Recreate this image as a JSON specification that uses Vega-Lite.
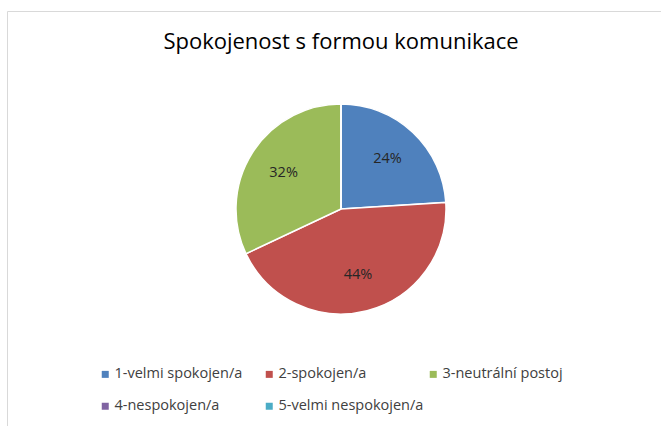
{
  "$schema": "https://vega.github.io/schema/vega-lite/v6.json",
  "width": 661,
  "height": 426,
  "autosize": {"type": "fit", "contains": "padding"},
  "padding": {"left": 7, "top": 11, "right": -2, "bottom": -2},
  "background": "white",
  "view": {"stroke": "#d9d9d9", "strokeWidth": 1, "fill": "white"},
  "config": {
    "view": {"stroke": "#d9d9d9", "strokeWidth": 1},
    "font": "Open Sans"
  },
  "title": {
    "text": "Spokojenost s formou komunikace",
    "anchor": "middle",
    "orient": "top",
    "offset": -60,
    "baseline": "alphabetic",
    "dx": 6,
    "font": "Open Sans",
    "fontSize": 22,
    "fontWeight": "normal",
    "color": "#000000"
  },
  "data": {
    "values": [
      {"kategorie": "1-velmi spokojen/a", "podil": 0.24, "poradi": 1},
      {"kategorie": "2-spokojen/a", "podil": 0.44, "poradi": 2},
      {"kategorie": "3-neutrální postoj", "podil": 0.32, "poradi": 3},
      {"kategorie": "4-nespokojen/a", "podil": 0, "poradi": 4},
      {"kategorie": "5-velmi nespokojen/a", "podil": 0, "poradi": 5}
    ]
  },
  "encoding": {
    "theta": {"field": "podil", "type": "quantitative", "stack": true},
    "order": {"field": "poradi", "type": "quantitative"}
  },
  "layer": [
    {
      "mark": {"type": "arc", "outerRadius": 105, "stroke": "white", "strokeWidth": 1.5, "xOffset": 6, "yOffset": -10.5},
      "encoding": {
        "color": {
          "field": "kategorie",
          "type": "nominal",
          "sort": ["1-velmi spokojen/a", "2-spokojen/a", "3-neutrální postoj", "4-nespokojen/a", "5-velmi nespokojen/a"],
          "scale": {
            "domain": ["1-velmi spokojen/a", "2-spokojen/a", "3-neutrální postoj", "4-nespokojen/a", "5-velmi nespokojen/a"],
            "range": ["#4F81BD", "#C0504D", "#9BBB59", "#8064A2", "#4BACC6"]
          },
          "legend": {
            "title": null,
            "orient": "none",
            "legendX": 91,
            "legendY": 356,
            "direction": "horizontal",
            "columns": 3,
            "gridAlign": "all",
            "columnPadding": 2,
            "rowPadding": 17,
            "symbolType": "square",
            "symbolSize": 49,
            "symbolStrokeWidth": 0,
            "labelFont": "Open Sans",
            "labelFontSize": 14.5,
            "labelColor": "#404040",
            "labelOffset": 2,
            "labelLimit": 300
          }
        }
      }
    },
    {
      "transform": [{"filter": "datum.podil > 0"}],
      "mark": {"type": "text", "radius": 68, "font": "Open Sans", "fontSize": 14.5, "color": "#262626", "xOffset": 6, "yOffset": -10.5},
      "encoding": {
        "text": {"field": "podil", "type": "quantitative", "format": ".0%"}
      }
    }
  ]
}
